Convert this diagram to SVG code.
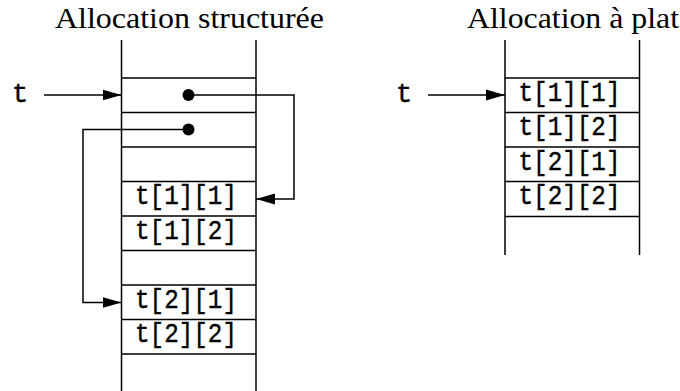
<svg xmlns="http://www.w3.org/2000/svg" width="680" height="391" viewBox="0 0 680 391">
<style>
.ln{stroke:#000;stroke-width:1.5;fill:none}
.title{font-family:"Liberation Serif","DejaVu Serif",serif;font-size:30px;fill:#000}
.mono{font-family:"Liberation Mono","DejaVu Sans Mono",monospace;font-size:27px;fill:#000;stroke:#000;stroke-width:0.4}
</style>
<defs>
<marker id="ah" markerUnits="userSpaceOnUse" markerWidth="20" markerHeight="12" refX="19" refY="6" orient="auto">
<path d="M0,0.5 L19,6 L0,11.5 z" fill="#000"/>
</marker>
</defs>
<rect width="680" height="391" fill="#fff"/>
<g id="title-left"><text class="title" x="55" y="27.5" textLength="269" lengthAdjust="spacingAndGlyphs">Allocation structurée</text></g>
<g id="title-right"><text class="title" x="467" y="27.5" textLength="212" lengthAdjust="spacingAndGlyphs">Allocation à plat</text></g>

<g id="left-column">
<path class="ln" d="M121.5,40 V391 M256,40 V391"/>
<path class="ln" d="M121.5,78 H256 M121.5,112.5 H256 M121.5,147 H256 M121.5,181.5 H256 M121.5,216 H256 M121.5,250.5 H256 M121.5,285 H256 M121.5,319.5 H256 M121.5,354 H256"/>
</g>
<g id="left-ptr1"><circle cx="188.5" cy="95" r="6" fill="#000"/></g>
<g id="left-ptr2"><circle cx="188.5" cy="129.5" r="6" fill="#000"/></g>
<g id="left-t11"><text class="mono" x="135" y="204" textLength="102" lengthAdjust="spacingAndGlyphs">t[1][1]</text></g>
<g id="left-t12"><text class="mono" x="135" y="238.5" textLength="102" lengthAdjust="spacingAndGlyphs">t[1][2]</text></g>
<g id="left-t21"><text class="mono" x="135" y="307.5" textLength="102" lengthAdjust="spacingAndGlyphs">t[2][1]</text></g>
<g id="left-t22"><text class="mono" x="135" y="342" textLength="102" lengthAdjust="spacingAndGlyphs">t[2][2]</text></g>
<g id="left-t-label"><text class="mono" x="12" y="101.5">t</text></g>

<g id="right-column">
<path class="ln" d="M505,40 V255 M639.5,40 V255"/>
<path class="ln" d="M505,78 H639.5 M505,112.5 H639.5 M505,147 H639.5 M505,181.5 H639.5 M505,216.5 H639.5"/>
</g>
<g id="right-t11"><text class="mono" x="518.5" y="100.5" textLength="102" lengthAdjust="spacingAndGlyphs">t[1][1]</text></g>
<g id="right-t12"><text class="mono" x="518.5" y="135" textLength="102" lengthAdjust="spacingAndGlyphs">t[1][2]</text></g>
<g id="right-t21"><text class="mono" x="518.5" y="169.5" textLength="102" lengthAdjust="spacingAndGlyphs">t[2][1]</text></g>
<g id="right-t22"><text class="mono" x="518.5" y="204" textLength="102" lengthAdjust="spacingAndGlyphs">t[2][2]</text></g>
<g id="right-t-label"><text class="mono" x="396" y="101.5">t</text></g>

<g id="connectors">
<path class="ln" d="M44,95 H121.5" marker-end="url(#ah)"/>
<path class="ln" d="M188.5,95 H294 V199 H256" marker-end="url(#ah)"/>
<path class="ln" d="M188.5,129.5 H83 V302.5 H121.5" marker-end="url(#ah)"/>
<path class="ln" d="M428,95 H505" marker-end="url(#ah)"/>
</g>
</svg>
